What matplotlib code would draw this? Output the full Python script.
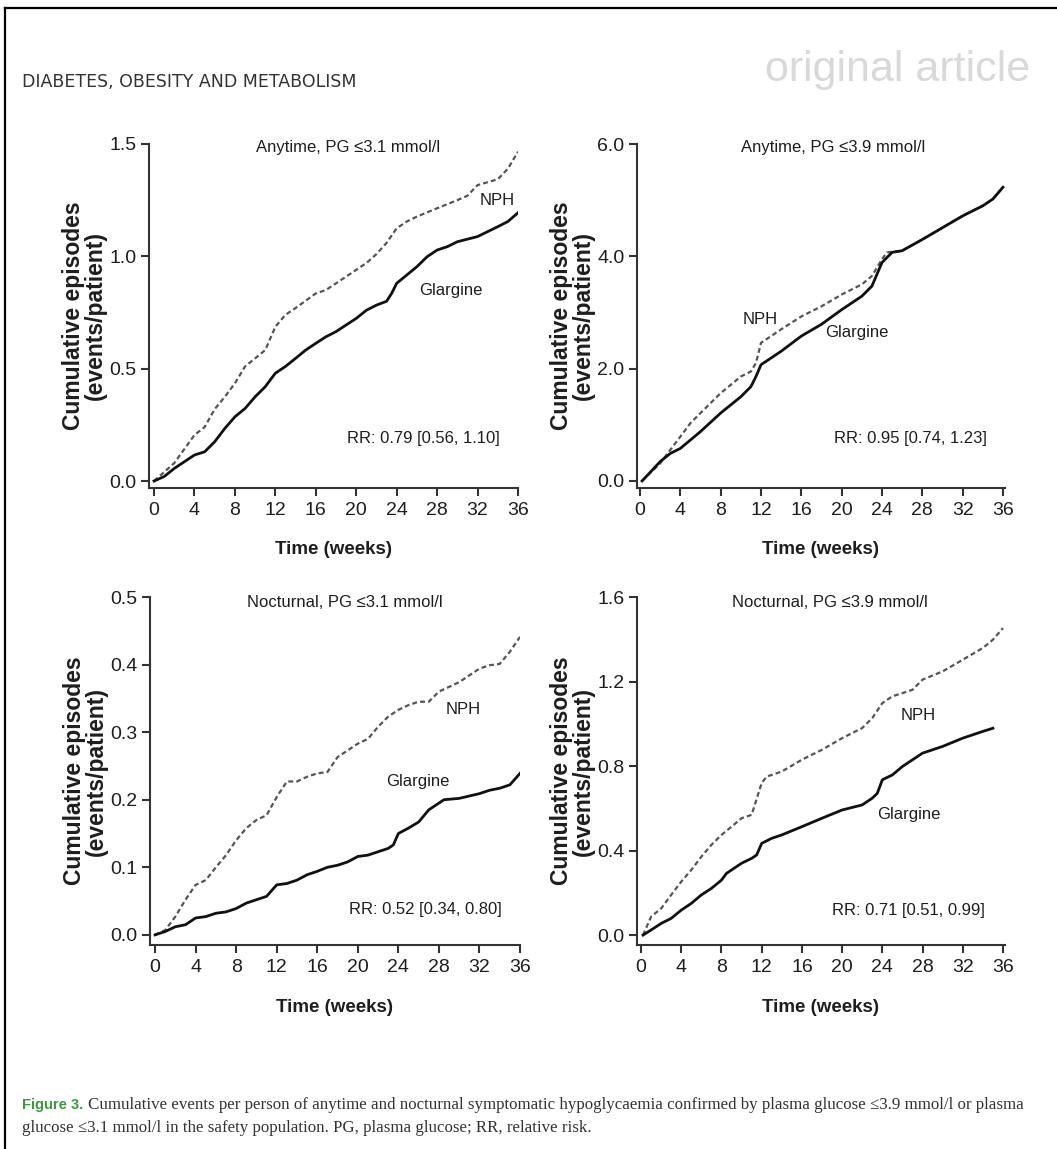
import matplotlib
matplotlib.use("Agg")
import matplotlib.pyplot as plt
from matplotlib.lines import Line2D

# weeks
weeks = [0, 4, 8, 12, 16, 20, 24, 28, 32, 36]

# Anytime, PG <=3.1
a31_nph_x = [0, 2, 4, 5, 6, 7, 8, 9, 10, 11, 12, 13, 14, 16, 17, 18, 20, 21, 22, 23, 24, 25, 26, 28, 30, 31, 32, 33, 34, 35, 36]
a31_nph_y = [0, 0.08, 0.205, 0.24, 0.32, 0.375, 0.435, 0.51, 0.546, 0.583, 0.687, 0.74, 0.77, 0.835, 0.85, 0.88, 0.94, 0.97, 1.01, 1.06, 1.125, 1.155, 1.177, 1.214, 1.25, 1.27, 1.317, 1.33, 1.343, 1.39, 1.466]
a31_gla_x = [0, 1, 2, 3, 4, 5, 6, 7, 8, 9, 10, 11, 12, 13, 14, 15, 16, 17, 18, 20, 21, 22, 23, 23.5, 24, 25, 26, 27, 28, 29, 30, 32, 33, 34, 35, 36]
a31_gla_y = [0, 0.02, 0.056, 0.086, 0.116, 0.13, 0.175, 0.234, 0.286, 0.323, 0.375, 0.42, 0.48, 0.51, 0.546, 0.583, 0.613, 0.642, 0.665, 0.724, 0.76, 0.783, 0.8, 0.835, 0.88, 0.917, 0.954, 0.998, 1.028, 1.043, 1.065, 1.088, 1.11, 1.132, 1.155, 1.194]

# Anytime, PG <=3.9
a39_nph_x = [0.2, 2, 4, 5, 6, 8, 10, 11, 11.5, 12, 13, 14, 16, 18, 20, 22, 23, 24, 24.5, 26, 28, 30, 32, 34, 35, 36]
a39_nph_y = [0, 0.315, 0.79, 1.03, 1.21, 1.565, 1.86, 1.95, 2.1, 2.46, 2.58, 2.70, 2.93, 3.11, 3.32, 3.5, 3.65, 3.95, 4.07, 4.1, 4.3, 4.51, 4.72, 4.9, 5.02, 5.23]
a39_gla_x = [0.2, 2, 3, 4, 5, 6, 8, 10, 11, 11.5, 12, 13, 14, 16, 18, 20, 22, 23, 24, 25, 26, 28, 30, 32, 34, 35, 36]
a39_gla_y = [0, 0.345, 0.49, 0.58, 0.73, 0.88, 1.21, 1.5, 1.68, 1.86, 2.07, 2.19, 2.31, 2.58, 2.79, 3.05, 3.29, 3.47, 3.89, 4.07, 4.1, 4.3, 4.51, 4.72, 4.9, 5.02, 5.23]

# Nocturnal, PG <=3.1
n31_nph_x = list(range(0, 37))
n31_nph_y = [0, 0.007, 0.027, 0.052, 0.074, 0.081, 0.1, 0.118, 0.14, 0.158, 0.17, 0.177, 0.204, 0.227, 0.227, 0.234, 0.239, 0.241, 0.263, 0.273, 0.283, 0.29, 0.308, 0.323, 0.333, 0.34, 0.345, 0.345, 0.36, 0.367, 0.374, 0.384, 0.394, 0.399, 0.401, 0.419, 0.441]
n31_gla_x = [0, 1, 2, 3, 4, 5, 6, 7, 8, 9, 10, 11, 12, 13, 14, 15, 16, 17, 18, 19, 20, 21, 22, 23, 23.5, 24, 25, 26, 27, 28, 28.5, 30, 32, 33, 34, 35, 36]
n31_gla_y = [0, 0.005, 0.012, 0.015, 0.025, 0.027, 0.032, 0.034, 0.039, 0.047, 0.052, 0.057, 0.074, 0.076, 0.081, 0.089, 0.094, 0.1, 0.103, 0.108, 0.116, 0.118, 0.123, 0.128, 0.133, 0.15, 0.158, 0.167, 0.185, 0.195, 0.2, 0.202, 0.209, 0.214, 0.217, 0.222, 0.239]

# Nocturnal, PG <=3.9
n39_nph_x = [0.2, 1, 2, 3, 4, 5, 6, 7, 8, 9, 10, 11, 12, 12.5, 13, 14, 16, 18, 20, 22, 23, 24, 25, 26, 27, 28, 30, 32, 34, 35, 36]
n39_nph_y = [0, 0.087, 0.126, 0.19, 0.253, 0.308, 0.371, 0.427, 0.474, 0.513, 0.553, 0.569, 0.72, 0.75, 0.758, 0.774, 0.83, 0.877, 0.932, 0.98, 1.027, 1.098, 1.13, 1.145, 1.161, 1.209, 1.248, 1.303, 1.359, 1.398, 1.453]
n39_gla_x = [0.2, 1, 2, 3, 4, 5, 6, 7, 8, 8.5, 9, 10, 11, 11.5, 12, 13, 14, 16, 18, 20, 22, 23, 23.5, 24, 25, 26, 28, 30, 32, 34, 35]
n39_gla_y = [0, 0.024, 0.055, 0.079, 0.118, 0.15, 0.19, 0.221, 0.26, 0.292, 0.308, 0.34, 0.363, 0.379, 0.434, 0.458, 0.474, 0.513, 0.553, 0.592, 0.616, 0.648, 0.671, 0.735, 0.758, 0.798, 0.861, 0.893, 0.932, 0.964, 0.979]

titles = ["Anytime, PG \u22643.1 mmol/l", "Anytime, PG \u22643.9 mmol/l",
          "Nocturnal, PG \u22643.1 mmol/l", "Nocturnal, PG \u22643.9 mmol/l"]
rr_texts = ["RR: 0.79 [0.56, 1.10]", "RR: 0.95 [0.74, 1.23]",
            "RR: 0.52 [0.34, 0.80]", "RR: 0.71 [0.51, 0.99]"]
yticks = [[0.0, 0.5, 1.0, 1.5], [0.0, 2.0, 4.0, 6.0],
          [0.0, 0.1, 0.2, 0.3, 0.4, 0.5], [0.0, 0.4, 0.8, 1.2, 1.6]]

sans = ["Liberation Sans", "DejaVu Sans"]
serif = ["Liberation Serif", "DejaVu Serif"]
ink = "#1e1e1e"

fig = plt.figure(figsize=(10.57, 11.49), dpi=100)

# page frame + header
fig.add_artist(Line2D([5/1057, 5/1057], [0, 1 - 8/1149], transform=fig.transFigure, color="black", lw=1.6))
fig.add_artist(Line2D([5/1057, 1], [1 - 8/1149, 1 - 8/1149], transform=fig.transFigure, color="black", lw=1.6))
fig.text(22/1057, 1 - 82/1149, "DIABETES, OBESITY AND METABOLISM", fontsize=12.5,
         family="DejaVu Sans", color="#333333", va="center", ha="left")
fig.text(1030/1057, 1 - 70/1149, "original article", fontsize=31, family=sans,
         color="#d9d9d9", va="center", ha="right")

# axes rectangles in pixels: left, right, top, bottom
boxes = [(149, 518, 144, 488), (637, 1005, 144, 488),
         (150, 520, 597, 945), (637, 1005, 597, 945)]
ylims = [(-0.031, 1.5), (-0.125, 6.0), (-0.015, 0.5), (-0.047, 1.6)]
xlims = [(-0.5, 36), (-0.3, 36.2), (-0.5, 36), (-0.4, 36.2)]
title_pos = [(0.54, 0.99), (0.533, 0.99), (0.527, 0.985), (0.524, 0.985)]

series = [
    (a31_nph_x, a31_nph_y, a31_gla_x, a31_gla_y),
    (a39_nph_x, a39_nph_y, a39_gla_x, a39_gla_y),
    (n31_nph_x, n31_nph_y, n31_gla_x, n31_gla_y),
    (n39_nph_x, n39_nph_y, n39_gla_x, n39_gla_y),
]
nph_lab = [(33.9, 1.25), (11.9, 2.87), (30.4, 0.333), (27.6, 1.04)]
gla_lab = [(29.4, 0.85), (21.5, 2.64), (25.9, 0.227), (26.6, 0.569)]
rr_lab = [(26.6, 0.19), (26.8, 0.76), (26.7, 0.037), (26.6, 0.118)]

for i in range(4):
    l, r, t, b = boxes[i]
    ax = fig.add_axes([l/1057, 1 - b/1149, (r - l)/1057, (b - t)/1149])
    nx, ny, gx, gy = series[i]
    ax.plot(nx, ny, color="#555555", lw=1.6, linestyle=(0, (2.2, 1.4)))
    ax.plot(gx, gy, color="#111111", lw=2.0)
    ax.set_xlim(*xlims[i])
    ax.set_ylim(*ylims[i])
    ax.set_xticks(weeks)
    ax.set_yticks(yticks[i])
    ax.set_yticklabels([f"{v:.1f}" for v in yticks[i]])
    for s in ["top", "right"]:
        ax.spines[s].set_visible(False)
    for s in ["left", "bottom"]:
        ax.spines[s].set_linewidth(1.5)
        ax.spines[s].set_color("#333333")
    ax.tick_params(direction="out", length=6, width=1.5, color="#333333",
                   labelsize=14, labelcolor=ink)
    ax.tick_params(axis="x", pad=4)
    ax.tick_params(axis="y", pad=3)
    for lab in ax.get_xticklabels() + ax.get_yticklabels():
        lab.set_family(sans)
    ax.text(title_pos[i][0], title_pos[i][1], titles[i], transform=ax.transAxes,
            ha="center", va="center", fontsize=12, family=sans, color=ink)
    ax.text(nph_lab[i][0], nph_lab[i][1], "NPH", ha="center", va="center",
            fontsize=12, family=sans, color=ink)
    ax.text(gla_lab[i][0], gla_lab[i][1], "Glargine", ha="center", va="center",
            fontsize=12, family=sans, color=ink)
    ax.text(rr_lab[i][0], rr_lab[i][1], rr_texts[i], ha="center", va="center",
            fontsize=12, family=sans, color=ink)
    ax.text(-0.175, 0.5, "Cumulative episodes\n(events/patient)", transform=ax.transAxes,
            rotation=90, ha="center", va="center", fontsize=16.5, fontweight="bold",
            family=sans, color=ink, linespacing=0.95)
    ax.text(0.5, -0.18, "Time (weeks)", transform=ax.transAxes, ha="center", va="center",
            fontsize=13.5, fontweight="bold", family=sans, color=ink)

# caption
cap_y = 1 - 1105/1149
fig_lbl = fig.text(22/1057, cap_y, "Figure 3.", fontsize=10.5, fontweight="bold",
                   family=sans, color="#3c9a3c", va="center", ha="left")
renderer = fig.canvas.get_renderer()
x_after = (fig_lbl.get_window_extent(renderer).x1 + 5) / 1057
fig.text(x_after, cap_y,
         "Cumulative events per person of anytime and nocturnal symptomatic hypoglycaemia confirmed by plasma glucose \u22643.9 mmol/l or plasma",
         fontsize=12.2, family=serif, color="#333333", va="center", ha="left")
fig.text(22/1057, 1 - 1128/1149,
         "glucose \u22643.1 mmol/l in the safety population. PG, plasma glucose; RR, relative risk.",
         fontsize=12.2, family=serif, color="#333333", va="center", ha="left")

fig.savefig("out.png", dpi=100, facecolor="white")
